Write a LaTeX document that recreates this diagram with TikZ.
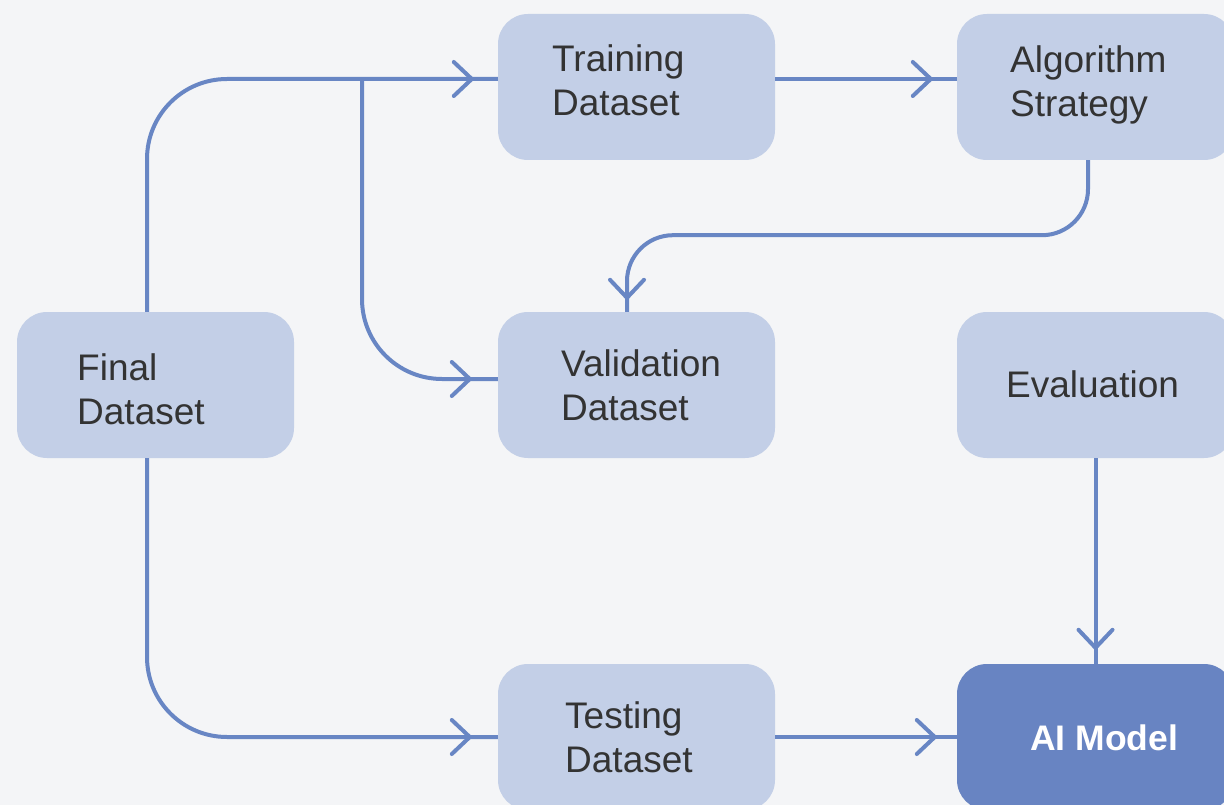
\documentclass[tikz,border=0pt]{standalone}
\usepackage{fontspec}
\setmainfont{Liberation Sans}
\usetikzlibrary{arrows.meta,decorations.markings}
\definecolor{bgc}{HTML}{F4F5F7}
\definecolor{boxc}{HTML}{C3CFE7}
\definecolor{darkc}{HTML}{6884C2}
\definecolor{edgec}{HTML}{6886C4}
\definecolor{txtc}{HTML}{333333}
\tikzset{
  box/.style={rectangle, rounded corners=30pt, fill=boxc, minimum width=277pt, minimum height=146pt, inner sep=0pt},
  darkbox/.style={box, fill=darkc},
  lbl/.style={anchor=west, align=left, text=txtc, font=\fontsize{37}{44}\selectfont, inner sep=0pt},
  darklbl/.style={anchor=west, text=white, font=\fontsize{35.5}{42}\selectfont\bfseries, inner sep=0pt},
  conn/.style={draw=edgec, line width=4pt},
  tipat/.style={postaction={decorate}, decoration={markings, mark=at position -#1 with {\arrow[line width=4pt, edgec]{Straight Barb[length=18pt,width=34pt,round]}}}},
}
\begin{document}
\begin{tikzpicture}[x=1pt,y=-1pt]
\useasboundingbox (0,0) rectangle (1224,805);
\clip (0,0) rectangle (1224,805);
\fill[bgc] (0,0) rectangle (1224,805);
% boxes
\node[box] (final) at (155.5,385) {};
\node[box] (train) at (636.5,87) {};
\node[box] (algo) at (1095.5,87) {};
\node[box] (valid) at (636.5,385) {};
\node[box] (eval) at (1095.5,385) {};
\node[box] (test) at (636.5,737) {};
\node[darkbox] (aim) at (1095.5,737) {};
% labels
\node[lbl] (finalT) at (77,389) {Final\\Dataset};
\node[lbl] (trainT) at (552,80.5) {Training\\Dataset};
\node[lbl] (algoT) at (1010,85) {Algorithm\\Strategy};
\node[lbl] (validT) at (561,385) {Validation\\Dataset};
\node[lbl] (evalT) at (1006,384) {Evaluation};
\node[lbl] (testT) at (565,737) {Testing\\Dataset};
\node[darklbl] (aimT) at (1030,738) {AI Model};
% connectors
\coordinate (split) at (362,79);
\draw[conn, rounded corners=80pt, tipat=24pt] ([xshift=-8.5pt]final.north) |- ([yshift=8pt]train.west);
\draw[conn, rounded corners=80pt, tipat=26pt] (split) |- ([yshift=6pt]valid.west);
\draw[conn, tipat=24pt] ([yshift=8pt]train.east) -- ([yshift=8pt]algo.west);
\draw[conn, rounded corners=46pt, tipat=12pt] ([xshift=-7.5pt]algo.south) -- ++(0,75) -| ([xshift=-9.5pt]valid.north);
\draw[conn, rounded corners=80pt, tipat=26pt] ([xshift=-8.5pt]final.south) |- (test.west);
\draw[conn, tipat=20pt] (test.east) -- (aim.west);
\draw[conn, tipat=14pt] (eval.south) -- (aim.north);
\end{tikzpicture}
\end{document}
